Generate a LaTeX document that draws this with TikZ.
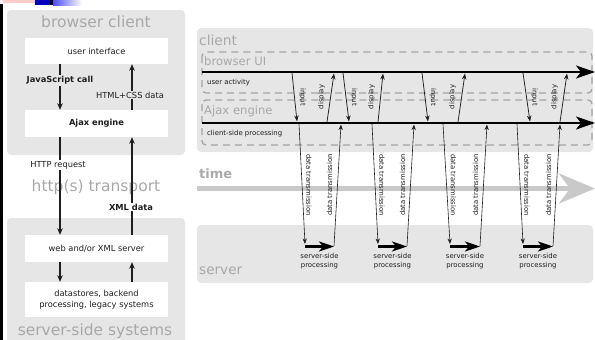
\documentclass[tikz,border=0pt]{standalone}
\usepackage{fontspec}
\setmainfont{DejaVu Sans}
\usetikzlibrary{arrows.meta}
\definecolor{panel}{HTML}{E6E6E6}
\definecolor{titlegray}{HTML}{A8A8A8}
\definecolor{dashgray}{HTML}{A3A3A3}
\definecolor{bandgray}{HTML}{C9C9C9}
\definecolor{inkgray}{HTML}{1E1E1E}

\tikzset{
  panelbox/.style={fill=panel, rounded corners=4pt},
  whitebox/.style={fill=white, minimum width=143pt, inner sep=0pt, align=center,
    font=\fontsize{8.3}{10.5}\selectfont, text=inkgray},
  bigtitle/.style={text=titlegray, inner sep=0pt, font=\fontsize{15.5}{18}\selectfont},
  midtitle/.style={text=titlegray, inner sep=0pt, anchor=west, font=\fontsize{11.6}{14}\selectfont},
  larrow/.style={-{Stealth[length=6.5pt,width=5.5pt]}, line width=1.1pt, inkgray},
  llabel/.style={inner sep=1.2pt, font=\fontsize{8.3}{10}\selectfont, text=inkgray},
  lane/.style={draw=dashgray, line width=1.3pt, dash pattern=on 7pt off 5pt, rounded corners=4pt},
  timeline/.style={line width=2.4pt, black, -{Stealth[length=19pt,width=13pt,inset=5pt]}},
  evarrow/.style={line width=0.75pt, inkgray, -{Stealth[length=6pt,width=4.5pt]}},
  xferarrow/.style={line width=0.6pt, inkgray, -{Stealth[length=5.5pt,width=4.2pt]}},
  procarrow/.style={line width=2.4pt, black, -{Stealth[length=15pt,width=10pt,inset=4pt]}},
  tiny/.style={inner sep=0pt, text=inkgray, font=\fontsize{6.9}{9}\selectfont},
}

\begin{document}
\begin{tikzpicture}[x=1pt,y=-1pt]
\useasboundingbox (0,0) rectangle (595,340);

% slide remnants along the top and left edges
\fill[red!20] (3,0) rectangle (35,3);
\fill[blue!75!black] (35,0) rectangle (50,5);
\fill[black] (50,0) rectangle (53,5);
\shade[left color=blue!70, right color=white] (53,0) rectangle (82,5);
\fill[black] (0,4) rectangle (2.5,340);

% ---------------- classic model (left) ----------------
\fill[panelbox] (7,10) rectangle (185,155);
\fill[panelbox] (7,218) rectangle (185,352);

\node[bigtitle] (bc) at (96,22) {browser client};
\node[bigtitle] (tr) at (96,187) {http(s) transport};
\node[bigtitle] (ss) at (95,331) {server-side systems};

\node[whitebox, minimum height=26pt] (ui) at (96.5,51) {user interface};
\node[whitebox, minimum height=27pt, font=\bfseries\fontsize{8.3}{10.5}\selectfont] (ajax) at (96.5,123.5) {Ajax engine};
\node[whitebox, minimum height=27pt] (web) at (96.5,248.5) {web and/or XML server};
\node[whitebox, minimum height=35pt] (db) at (96.5,299.5) {datastores, backend\\processing, legacy systems};

% browser <-> engine
\draw[larrow] ([xshift=-36.5pt]ui.south) -- ([xshift=-36.5pt]ajax.north)
  node[pos=0.36, llabel, fill=panel, font=\bfseries\fontsize{8.3}{10}\selectfont] {JavaScript call};
\draw[larrow] ([xshift=35.5pt]ajax.north) -- ([xshift=35.5pt]ui.south);
\node[llabel, fill=panel] (hcss) at (130,95) {HTML+CSS data};

% engine <-> server
\draw[larrow] ([xshift=-36.5pt]ajax.south) -- ([xshift=-36.5pt]web.north);
\node[llabel, fill=white] (httpreq) at (58,165) {HTTP request};
\draw[larrow] ([xshift=35.5pt]web.north) -- ([xshift=35.5pt]ajax.south);
\node[llabel, fill=white, font=\bfseries\fontsize{8.3}{10}\selectfont] (xmld) at (131,207) {XML data};

% server <-> back end
\draw[larrow] ([xshift=-36.5pt]web.south) -- ([xshift=-36.5pt]db.north);
\draw[larrow] ([xshift=35.5pt]db.north) -- ([xshift=35.5pt]web.south);

% ---------------- Ajax model (right) ----------------
\fill[panelbox] (197,28) rectangle (593,152);
\fill[panelbox] (197,225) rectangle (593,283);

\node[text=titlegray, inner sep=0pt, anchor=west, font=\fontsize{13.8}{16}\selectfont] (cl) at (199,40) {client};
\node[text=titlegray, inner sep=0pt, anchor=west, font=\fontsize{13.6}{16}\selectfont] (sv) at (199,271) {server};

% time axis
\draw[bandgray, line width=5pt, -{Stealth[length=36pt,width=30pt,inset=11pt]}] (197,188.5) -- (595,188.5);
\node[text=bandgray!85!black, inner sep=0pt, anchor=west, font=\bfseries\fontsize{13}{16}\selectfont] (tm) at (199,174) {time};

% lanes
\draw[lane] (202,52) rectangle (592,93);
\draw[lane] (202,100) rectangle (592,145);
\node[midtitle] (bui) at (204,61) {browser UI};
\node[midtitle] (aje) at (204,111.5) {Ajax engine};

% timelines
\coordinate (ua0) at (202,72);  \coordinate (ua1) at (595,72);
\coordinate (cs0) at (202,123); \coordinate (cs1) at (595,123);
\draw[timeline] (ua0) -- (ua1);
\draw[timeline] (cs0) -- (cs1);
\node[tiny, anchor=west] (ual) at (207,83) {user activity};
\node[tiny, anchor=west] (csl) at (207,134) {client-side processing};

% request / response cycles
\foreach \ia/\ib/\da/\db/\ta/\tb/\ua/\ub [count=\k] in {
    292/297/327/334/299/305/334/341,
    343/349/378/383/372/378/407/414,
    422/428/458/465/443/450/480/487,
    523/530/560/567/517/523/553/560}{
  \coordinate (in\k a) at (\ia,73);   \coordinate (in\k b) at (\ib,121.5);
  \coordinate (ds\k a) at (\da,122);  \coordinate (ds\k b) at (\db,73.5);
  \coordinate (tx\k a) at (\ta,124);  \coordinate (tx\k b) at (\tb,244);
  \coordinate (pr\k a) at (\tb,246.5);\coordinate (pr\k b) at (\ua,246.5);
  \coordinate (rx\k a) at (\ua,246);  \coordinate (rx\k b) at (\ub,124.5);
  \draw[evarrow] (in\k a) -- (in\k b);
  \draw[evarrow] (ds\k a) -- (ds\k b);
  \draw[xferarrow] (tx\k a) -- (tx\k b);
  \draw[procarrow] (pr\k a) -- (pr\k b);
  \draw[xferarrow] (rx\k a) -- (rx\k b);
  \node[tiny, rotate=-90] at ({(\ia+\ib)/2+8},97) {input};
  \node[tiny, rotate=90] at ({(\da+\db)/2-9},97) {display};
  \node[tiny, rotate=-90] at ({(\ta+\tb)/2+7},185) {data transmission};
  \node[tiny, rotate=90] at ({(\ua+\ub)/2-8},185) {data transmission};
  \node[tiny, align=center] at ({(\tb+\ua)/2},261.5) {server-side\\processing};
}
\end{tikzpicture}
\end{document}
